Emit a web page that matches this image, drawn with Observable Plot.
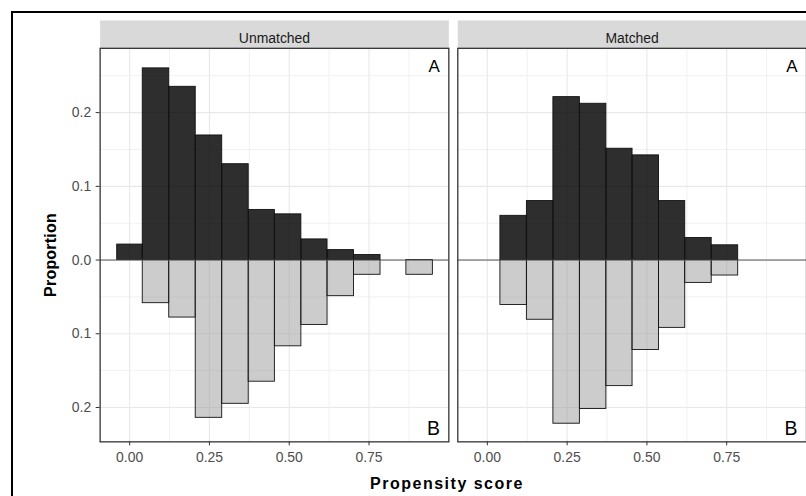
<!DOCTYPE html>
<html><head><meta charset="utf-8">
<script src="https://cdn.jsdelivr.net/npm/d3@7"></script>
<script src="https://cdn.jsdelivr.net/npm/@observablehq/plot@0.6"></script>
<style>
html,body{margin:0;padding:0;overflow:hidden;background:#fff;width:806px;height:496px;}
#wrap{position:relative;width:806px;height:496px;overflow:hidden;font-family:"Liberation Sans",Arial,sans-serif;}
#border{position:absolute;left:11px;top:11px;width:1000px;height:1000px;border:2px solid #000;box-sizing:border-box}
#chart{position:absolute;left:0;top:0}
.lab{position:absolute;font-weight:bold;font-size:16px;line-height:16px;color:#000;white-space:nowrap}
#xlab{left:447px;top:476px;transform:translateX(-50%);letter-spacing:1.5px}
#ylab{left:51px;top:255px;transform:translate(-50%,-50%) rotate(-90deg);letter-spacing:0.2px}
</style></head><body>
<div id="wrap"><div id="border"></div><div id="chart"></div>
<div class="lab" id="xlab">Propensity score</div>
<div class="lab" id="ylab">Proportion</div></div>
<script>
const panels = ["Unmatched", "Matched"];
const binEdges = [-0.039, 0.041, 0.124, 0.207, 0.29, 0.373, 0.455, 0.538, 0.62, 0.703, 0.786, 0.867, 0.95];
const unmatchedA = [0.021, 0.260, 0.235, 0.169, 0.130, 0.068, 0.062, 0.028, 0.0135, 0.0068, 0, 0];
const unmatchedB = [0, 0.0585, 0.078, 0.214, 0.195, 0.165, 0.117, 0.088, 0.049, 0.020, 0, 0.020];
const matchedA = [0, 0.060, 0.080, 0.221, 0.212, 0.151, 0.142, 0.080, 0.030, 0.020, 0, 0];
const matchedB = [0, 0.061, 0.081, 0.222, 0.202, 0.171, 0.122, 0.092, 0.031, 0.021, 0, 0];
const xTicks = [0, 0.25, 0.5, 0.75];
const xTickLabels = ["0.00", "0.25", "0.50", "0.75"];
const xMinor = [0.125, 0.375, 0.625, 0.875];
const yTicks = [-0.2, -0.1, 0, 0.1, 0.2];
const yTickLabels = ["0.2", "0.1", "0.0", "0.1", "0.2"];
const yMinor = [-0.15, -0.05, 0.05, 0.15, 0.25];
const groupLabels = ["A", "B"];

const rows = [];
function add(panel, group, vals) {
  vals.forEach((v, i) => {
    if (v > 0) rows.push({panel, group, x1: binEdges[i], x2: binEdges[i + 1], v: group === "A" ? v : -v});
  });
}
add("Unmatched", "A", unmatchedA);
add("Unmatched", "B", unmatchedB);
add("Matched", "A", matchedA);
add("Matched", "B", matchedB);

const xLab = new Map(xTicks.map((d, i) => [d, xTickLabels[i]]));
const yLab = new Map(yTicks.map((d, i) => [d, yTickLabels[i]]));

const chart = Plot.plot({
  width: 809, height: 496,
  marginLeft: 100, marginRight: 0, marginTop: 48, marginBottom: 53,
  style: {fontFamily: '"Liberation Sans", Arial, sans-serif', background: "transparent", overflow: "visible"},
  fx: {domain: panels, padding: 9 / 359, paddingOuter: 0, label: null, axis: null},
  x: {domain: [-0.0925, 1.0], label: null, axis: null},
  y: {domain: [-0.2466, 0.2872], label: null, axis: null},
  marks: [
    Plot.frame({fill: "#d9d9d9", insetTop: -28, insetBottom: 395}),
    Plot.gridX(xMinor, {stroke: "#eeeeee", strokeOpacity: 1, strokeWidth: 0.8}),
    Plot.gridY(yMinor, {stroke: "#eeeeee", strokeOpacity: 1, strokeWidth: 0.8}),
    Plot.gridX(xTicks, {stroke: "#e8e8e8", strokeOpacity: 1, strokeWidth: 1.1}),
    Plot.gridY(yTicks, {stroke: "#e8e8e8", strokeOpacity: 1, strokeWidth: 1.1}),
    Plot.rectY(rows.filter(d => d.group === "A"), {x1: "x1", x2: "x2", y1: 0, y2: "v", fx: "panel", fill: "#000", fillOpacity: 0.82, stroke: "#111", strokeWidth: 0.9}),
    Plot.rectY(rows.filter(d => d.group === "B"), {x1: "x1", x2: "x2", y1: 0, y2: "v", fx: "panel", fill: "#999", fillOpacity: 0.5, stroke: "#111", strokeWidth: 0.9}),
    Plot.ruleY([0], {stroke: "#555", strokeWidth: 1}),
    Plot.frame({stroke: "#333", strokeWidth: 1.3}),
    Plot.text([groupLabels[0]], {text: d => d, frameAnchor: "top-right", lineAnchor: "top", dx: -9, dy: 12, fontSize: 17, fill: "#000"}),
    Plot.text([groupLabels[1]], {text: d => d, frameAnchor: "bottom-right", lineAnchor: "bottom", dx: -9, dy: -7, fontSize: 19.5, fill: "#000"}),
    Plot.axisFx({anchor: "top", tickSize: 0, tickPadding: 5, fontSize: 14, fill: "#1a1a1a", label: null}),
    Plot.axisY(yTicks, {tickFormat: d => yLab.get(d), tickSize: 4, tickPadding: 5, fontSize: 14, stroke: "#333", fill: "#4d4d4d", label: null}),
    Plot.axisX(xTicks, {tickFormat: d => xLab.get(d), tickSize: 4, tickPadding: 6, fontSize: 14, stroke: "#333", fill: "#4d4d4d", label: null})
  ]
});
document.getElementById("chart").appendChild(chart);
</script>
</body></html>
